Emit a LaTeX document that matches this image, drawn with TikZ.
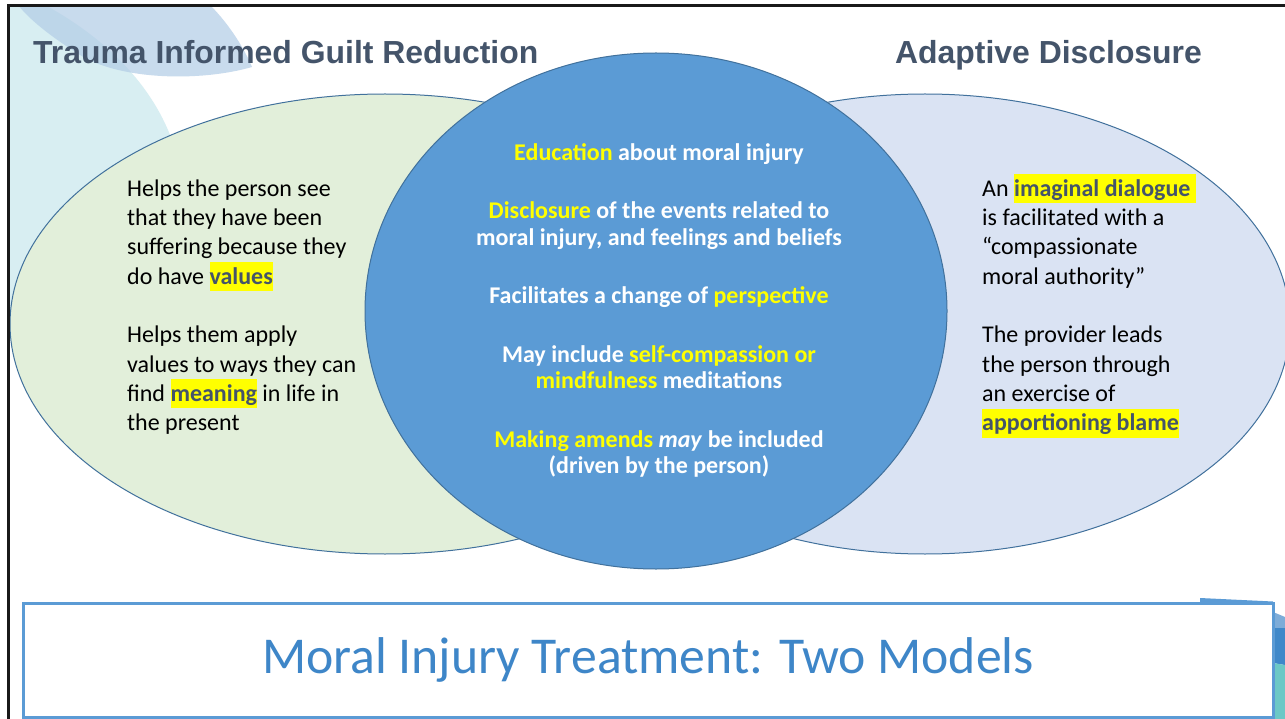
\documentclass[tikz,border=0pt]{standalone}
\usepackage{fontspec}
\setmainfont{Carlito}
\newfontfamily\arialfont{Liberation Sans}
\usetikzlibrary{calc}
\definecolor{titlec}{RGB}{68,84,106}
\definecolor{greenfill}{RGB}{226,239,218}
\definecolor{bluefill}{RGB}{218,227,243}
\definecolor{circfill}{RGB}{91,155,213}
\definecolor{edgec}{RGB}{65,113,156}
\definecolor{boxc}{RGB}{91,155,213}
\definecolor{bigtitle}{RGB}{62,134,200}
\definecolor{hly}{RGB}{255,255,0}
\definecolor{tealdeco}{RGB}{216,238,242}
\definecolor{bluedeco}{RGB}{178,204,230}
\definecolor{stripA}{RGB}{125,172,216}
\definecolor{stripB}{RGB}{63,136,201}
\definecolor{stripC}{RGB}{108,200,198}
\definecolor{borderc}{RGB}{25,25,25}
\newcommand\firststrut{\rule{0pt}{22pt}}
\newcommand\hl[1]{{\setlength{\fboxsep}{0pt}\colorbox{hly}{\rule[-7pt]{0pt}{29pt}\textcolor{titlec}{\bfseries #1}}}}
\newcommand\yl[1]{\textcolor{hly}{#1}}
\tikzset{
  body/.style={font=\fontsize{24pt}{29.3pt}\selectfont, align=left, inner sep=0pt, anchor=north west, text=black},
  ctext/.style={font=\bfseries\fontsize{24pt}{26.5pt}\selectfont, align=center, inner sep=0pt, anchor=north, text=white},
  titletxt/.style={font=\arialfont\bfseries\fontsize{31.9pt}{36pt}\selectfont, text=titlec, inner sep=0pt, anchor=base west},
  shapeedge/.style={draw=edgec, line width=1pt},
}
\begin{document}
\begin{tikzpicture}[x=1pt,y=-1pt]
\useasboundingbox (0,0) rectangle (1285,719);
\fill[white] (0,0) rectangle (1285,719);
% background decorations
\fill[tealdeco] (9,5) -- (45,5) .. controls (100,35) and (150,80) .. (172,140) -- (120,330) -- (9,330) -- cycle;
\fill[bluedeco, opacity=0.7] (18,5) -- (210,5) .. controls (230,25) and (245,50) .. (252,67) .. controls (200,82) and (120,80) .. (80,55) .. controls (50,36) and (30,20) .. (18,5) -- cycle;
\fill[stripA] (1273,612) -- (1285,617) -- (1285,630) -- (1273,630) -- cycle;
\fill[stripB] (1273,628) -- (1285,628) -- (1285,665) -- (1273,663) -- cycle;
\fill[stripC] (1273,663) -- (1285,665) -- (1285,719) -- (1273,719) -- cycle;
\fill[boxc] (1200,598) -- (1273,601.5) -- (1273,604) -- (1200,604) -- cycle;
% Venn shapes
\path[shapeedge, fill=greenfill] (385,324) ellipse [x radius=375pt, y radius=230pt];
\path[shapeedge, fill=bluefill] (925,324) ellipse [x radius=365pt, y radius=230pt];
\path[shapeedge, fill=circfill] (656,311) ellipse [x radius=291pt, y radius=258pt];
% titles
\node[titletxt] (t1) at (33,63.5) {Trauma Informed Guilt Reduction};
\node[titletxt] (t2) at (895,63.5) {Adaptive Disclosure};
% left text
\node[body] (ltext) at (127,174) {\firststrut Helps the person see\\
that they have been\\
suffering because they\\
do have \hl{values}\\[29.3pt]
Helps them apply\\
values to ways they can\\
find \hl{meaning} in life in\\
the present};
% right text
\node[body] (rtext) at (982,174) {\firststrut An \hl{imaginal dialogue }\\
is facilitated with a\\
“compassionate\\
moral authority”\\[29.3pt]
The provider leads\\
the person through\\
an exercise of\\
\hl{apportioning blame}};
% center text
\node[ctext] (ctxt) at (659,138) {\firststrut \yl{Education} about moral injury\\[32pt]
\yl{Disclosure} of the events related to\\
moral injury, and feelings and beliefs\\[32pt]
Facilitates a change of \yl{perspective}\\[32pt]
May include \yl{self-compassion or}\\
\yl{mindfulness} meditations\\[32pt]
\yl{Making amends} \textit{may} be included\\
(driven by the person)};
% bottom title box
\node[draw=boxc, line width=3pt, fill=white, minimum width=1250pt, minimum height=114pt, inner sep=0pt,
      text=bigtitle, font=\fontsize{51.7pt}{60pt}\selectfont] (mainbox) at (648,660) {Moral Injury Treatment: Two Models};
% slide border
\draw[borderc, line width=2.5pt] (8.7,719) -- (8.7,5.3) -- (1285,5.3);
\end{tikzpicture}
\end{document}
